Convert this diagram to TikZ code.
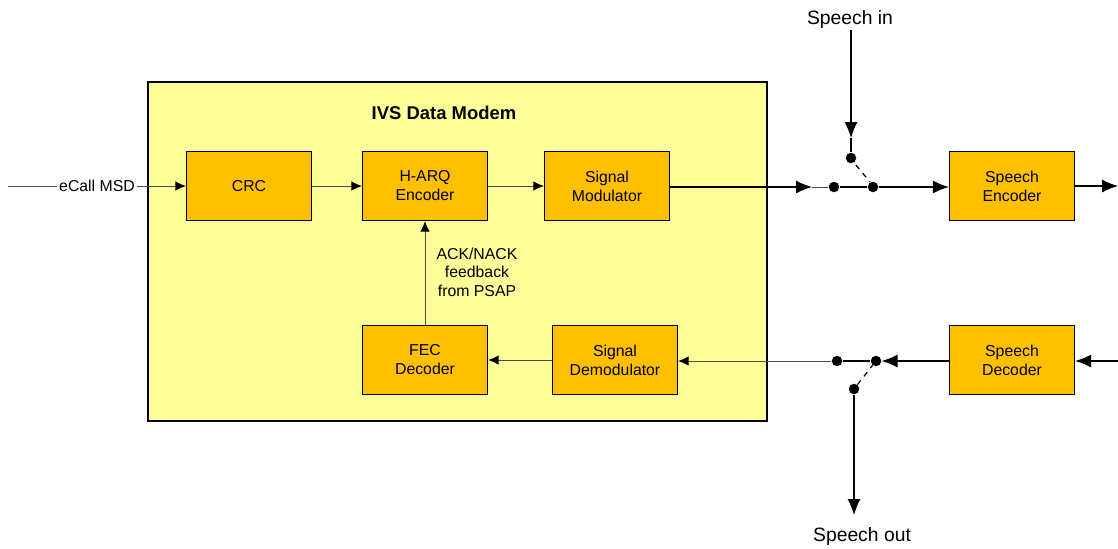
\documentclass[tikz,border=0pt]{standalone}
\usepackage{fontspec}
\setmainfont{Liberation Sans}
\usetikzlibrary{arrows.meta}
\definecolor{modemyellow}{HTML}{FFFF99}
\definecolor{boxorange}{HTML}{FFC000}
\definecolor{wire}{HTML}{4D4D4D}
\tikzset{
  blk/.style={draw, line width=0.7pt, fill=boxorange, minimum width=2.5cm, minimum height=1.38cm,
    align=center, font=\fontsize{9}{10.8}\selectfont, inner sep=0pt},
  dot/.style={circle, fill=black, inner sep=0pt, minimum size=0.21cm},
  arr/.style={-{Latex[length=0.21cm,width=0.19cm,color=black]}, wire, line width=0.5pt},
  bigarr/.style={-{Latex[length=0.32cm,width=0.26cm]}, line width=0.7pt},
}
\begin{document}
\begin{tikzpicture}[x=0.02cm, y=-0.02cm]
  \useasboundingbox (0,0) rectangle (1118,548);

  % modem frame
  \draw[line width=0.7pt, fill=modemyellow] (148,82) rectangle (767,421);
  \node[font=\bfseries\fontsize{10.5}{12}\selectfont] (title) at (444,113) {IVS Data Modem};

  % blocks
  \node[blk] (crc) at (249,186) {CRC};
  \node[blk] (harq) at (425,186) {H-ARQ\\Encoder};
  \node[blk] (mod) at (607,186) {Signal\\Modulator};
  \node[blk] (fec) at (425,360) {FEC\\Decoder};
  \node[blk] (demod) at (615,360) {Signal\\Demodulator};
  \node[blk] (senc) at (1012,186) {Speech\\Encoder};
  \node[blk] (sdec) at (1012,360) {Speech\\Decoder};

  % input
  \coordinate (msdin) at (8,186);
  \node[font=\fontsize{9}{10}\selectfont, inner sep=1pt] (msd) at (97,186) {eCall MSD};
  \draw[wire, line width=0.5pt] (msdin) -- (msd.west);
  \draw[arr] (msd.east) -- (crc.west);
  \draw[arr] (crc) -- (harq);
  \draw[arr] (harq) -- (mod);
  \draw[arr] (fec) -- (harq);
  \draw[arr] (demod) -- (fec);
  \node[align=center, font=\fontsize{9}{10.5}\selectfont] (ack) at (477,272) {ACK/NACK\\feedback\\from PSAP};

  % upper switch
  \node[dot] (swl) at (834,187) {};
  \node[dot] (swr) at (873,187) {};
  \node[dot] (swt) at (851,158) {};
  \coordinate (tipa) at (812,187);
  \draw[bigarr] (mod.east |- tipa) -- (tipa);
  \draw[wire, line width=0.5pt] (tipa) -- (swl);
  \draw[line width=1.2pt] (swl) -- (swr);
  \draw[dashed, line width=0.7pt] (856,165) -- (870,182);
  \draw[bigarr] (swr) -- (senc.west |- swr);
  \draw[bigarr] (senc.east) -- (1118,186);

  % speech in
  \node[font=\fontsize{11}{12}\selectfont] (spin) at (850,20) {Speech in};
  \coordinate (tipb) at (851,138);
  \draw[bigarr] (851,30) -- (tipb);
  \draw[line width=0.7pt] (tipb) -- (swt);

  % lower switch
  \node[dot] (dwl) at (837,361) {};
  \node[dot] (dwr) at (876,361) {};
  \node[dot] (dwb) at (854,389) {};
  \draw[arr] (dwl) -- (demod.east |- dwl);
  \draw[line width=1.2pt] (dwl) -- (dwr);
  \draw[dashed, line width=0.7pt] (dwb) -- (dwr);
  \draw[bigarr] (sdec.west |- dwr) -- (dwr);
  \draw[bigarr] (1118,361) -- (sdec.east |- dwr);

  % speech out
  \node[font=\fontsize{11}{12}\selectfont] (spout) at (862,536) {Speech out};
  \draw[bigarr] (dwb) -- (854,515);
\end{tikzpicture}
\end{document}
